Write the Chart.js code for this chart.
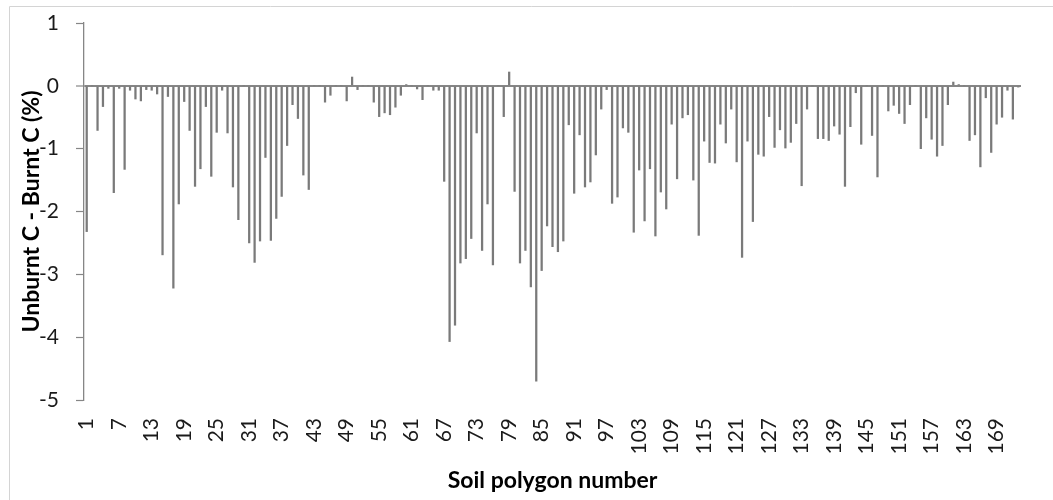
<!DOCTYPE html>
<html>
<head>
<meta charset="utf-8">
<script src="https://cdn.jsdelivr.net/npm/chart.js@4/dist/chart.umd.min.js"></script>
<style>
  html, body { margin: 0; padding: 0; background: #fff; }
  #wrap { width: 1053px; height: 500px; position: relative; }
</style>
</head>
<body>
<div id="wrap"><canvas id="chart"></canvas></div>
<script>
// soil polygons 1..173
const polygons = Array.from({ length: 173 }, (_, i) => String(i + 1));

// Unburnt C - Burnt C (%)
const carbonDiff = [
  -2.32, 0, -0.71, -0.33, -0.04, -1.70, -0.04, -1.33, -0.07, -0.21,
  -0.24, -0.06, -0.07, -0.13, -2.69, -0.17, -3.22, -1.88, -0.25, -0.71,
  -1.60, -1.32, -0.33, -1.44, -0.74, -0.07, -0.75, -1.61, -2.13, 0,
  -2.50, -2.81, -2.47, -1.14, -2.46, -2.11, -1.76, -0.95, -0.30, -0.52,
  -1.42, -1.65, 0, 0, -0.26, -0.15, 0, 0, -0.24, 0.14,
  -0.06, 0, 0, -0.26, -0.49, -0.43, -0.46, -0.34, -0.15, 0.02,
  0, -0.05, -0.22, 0, -0.07, -0.07, -1.52, -4.07, -3.81, -2.82,
  -2.75, -2.43, -0.75, -2.62, -1.88, -2.85, 0, -0.49, 0.22, -1.68,
  -2.82, -2.62, -3.20, -4.70, -2.94, -2.23, -2.56, -2.64, -2.47, -0.62,
  -1.71, -0.78, -1.61, -1.53, -1.10, -0.37, -0.06, -1.87, -1.77, -0.67,
  -0.74, -2.33, -1.34, -2.15, -1.32, -2.39, -1.69, -1.96, -0.61, -1.48,
  -0.51, -0.46, -1.50, -2.38, -0.88, -1.22, -1.23, -0.61, -0.91, -0.37,
  -1.21, -2.73, -0.88, -2.16, -1.09, -1.12, -0.49, -0.98, -0.70, -0.99,
  -0.90, -0.60, -1.59, -0.37, 0, -0.84, -0.84, -0.87, -0.64, -0.77,
  -1.60, -0.65, -0.11, -0.93, 0, -0.79, -1.45, 0, -0.40, -0.31,
  -0.44, -0.60, -0.30, 0, -1.00, -0.51, -0.85, -1.12, -0.95, -0.30,
  0.06, 0.02, 0, -0.87, -0.78, -1.29, -0.19, -1.06, -0.61, -0.50,
  -0.07, -0.53, -0.02
];

// category labels that are written under the axis
const xTickLabels = ['1', '7', '13', '19', '25', '31', '37', '43', '49', '55', '61', '67', '73', '79', '85',
  '91', '97', '103', '109', '115', '121', '127', '133', '139', '145', '151', '157', '163', '169'];

const axisGrey = '#868686';

// light frame round the whole chart, like the Excel chart area
const frame = {
  id: 'frame',
  beforeDraw(chart) {
    const c = chart.ctx;
    c.save();
    c.strokeStyle = '#d4d4d4';
    c.lineWidth = 1;
    c.beginPath();
    c.moveTo(9.5, 520);
    c.lineTo(9.5, 6.5);
    c.lineTo(1060, 6.5);
    c.stroke();
    c.restore();
  }
};

Chart.defaults.font.family = 'Lato, "Open Sans", sans-serif';
Chart.defaults.color = '#1a1a1a';

new Chart(document.getElementById('chart'), {
  type: 'bar',
  data: {
    labels: polygons,
    datasets: [{
      data: carbonDiff,
      backgroundColor: '#7a7a7a',
      borderWidth: 0,
      barThickness: 1.6
    }]
  },
  options: {
    responsive: true,
    maintainAspectRatio: false,
    animation: false,
    layout: { padding: { top: 23, right: 32, bottom: 0, left: 0 } },
    plugins: {
      legend: { display: false },
      tooltip: { enabled: false }
    },
    scales: {
      x: {
        grid: { display: false, drawTicks: false },
        border: { display: false },
        ticks: {
          autoSkip: false,
          minRotation: 90,
          maxRotation: 90,
          padding: 18,
          font: { size: 21 },
          callback: function (val) {
            const lab = this.getLabelForValue(val);
            return xTickLabels.includes(lab) ? lab : '';
          }
        },
        title: {
          display: true,
          text: 'Soil polygon number',
          font: { size: 23, weight: 'bold' },
          color: '#000',
          padding: { top: 0, bottom: 6 }
        },
        // fixed box so the plot area sits where it does in the original
        afterFit: s => { s.height = 100; s.paddingLeft = 0; s.paddingRight = 0; }
      },
      y: {
        min: -5,
        max: 1,
        ticks: { stepSize: 1, padding: 17, font: { size: 21 } },
        grid: {
          // only the zero line is drawn across the plot
          color: ctx => (ctx.tick && ctx.tick.value === 0) ? axisGrey : 'rgba(0,0,0,0)',
          lineWidth: ctx => (ctx.tick && ctx.tick.value === 0) ? 2 : 1,
          tickColor: axisGrey,
          tickWidth: 1.2,
          tickLength: 8
        },
        border: { display: true, color: axisGrey, width: 1.3 },
        title: {
          display: true,
          text: 'Unburnt C - Burnt C (%)',
          font: { size: 23, weight: 'bold' },
          color: '#000',
          padding: { top: 18, bottom: 0 }
        },
        afterFit: s => { s.width = 84; s.paddingTop = 0; s.paddingBottom = 0; }
      }
    }
  },
  plugins: [frame]
});
</script>
</body>
</html>
